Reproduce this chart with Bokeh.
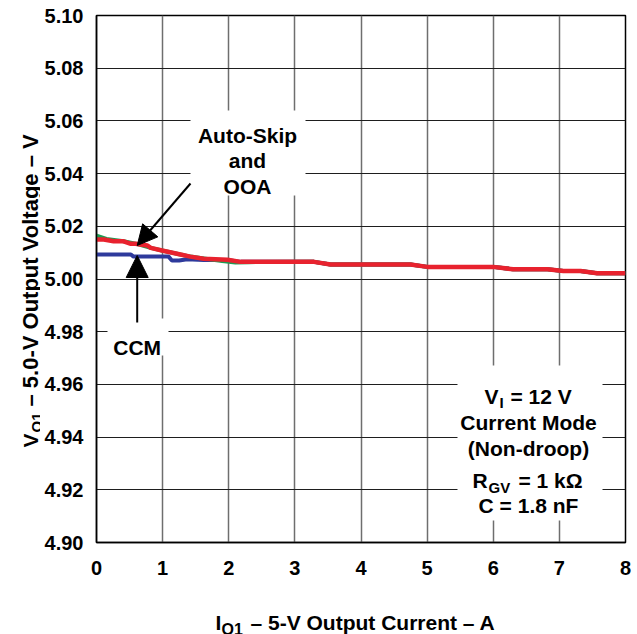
import math
from bokeh.plotting import figure
from bokeh.layouts import row, column
from bokeh.models import (Label, BoxAnnotation, Arrow, NormalHead, FixedTicker,
                          PrintfTickFormatter, Range1d)
from bokeh.embed import file_html
from bokeh.resources import INLINE

# ---------------- data ----------------
red_x = [0.0, 0.11, 0.26, 0.41, 0.51, 0.59, 0.77, 0.82, 0.99, 1.27, 1.42, 1.62, 1.98,
         2.18, 3.29, 3.54, 4.75, 5.0, 6.0, 6.3, 6.82, 7.06, 7.32, 7.57, 8.0]
red_v = [5.0150, 5.0150, 5.0143, 5.0143, 5.0134, 5.0134, 5.0127, 5.0118, 5.0108, 5.0093,
         5.0085, 5.0077, 5.0073, 5.0065, 5.0065, 5.0055, 5.0055, 5.0046, 5.0046, 5.0037,
         5.0037, 5.0030, 5.0030, 5.0022, 5.0022]

green_x = [0.0, 0.15, 0.41, 0.59, 0.82, 0.99, 1.27, 1.42, 1.6, 1.9, 2.1, 2.3, 3.29, 3.54,
           4.75, 5.0, 6.0, 6.3, 6.82, 7.06, 7.32, 7.57, 8.0]
green_v = [5.0165, 5.0152, 5.0143, 5.0134, 5.0118, 5.0108, 5.0093, 5.0085, 5.0079, 5.0068,
           5.0063, 5.0064, 5.0065, 5.0055, 5.0055, 5.0046, 5.0046, 5.0037, 5.0037, 5.0030,
           5.0030, 5.0022, 5.0022]

blue_x = [0.0, 0.52, 0.56, 1.09, 1.14, 1.25, 1.37, 1.62, 1.98, 2.18, 3.29, 3.54, 4.75, 5.0,
          6.0, 6.3, 6.82, 7.06, 7.32, 7.57, 8.0]
blue_v = [5.0093, 5.0093, 5.0085, 5.0085, 5.0070, 5.0070, 5.0075, 5.0072, 5.0072, 5.0065,
          5.0065, 5.0055, 5.0055, 5.0046, 5.0046, 5.0037, 5.0037, 5.0030, 5.0030, 5.0022,
          5.0022]

x_ticks = [0, 1, 2, 3, 4, 5, 6, 7, 8]
y_ticks = [4.90, 4.92, 4.94, 4.96, 4.98, 5.00, 5.02, 5.04, 5.06, 5.08, 5.10]

x_title = ["I", "O1", "\u2013 5-V Output Current \u2013  A"]
y_title = ["V", "O1", "\u2013 5.0-V Output Voltage \u2013 V"]

# ---------------- layout geometry (page px) ----------------
X0, X1, V0, V1 = 0.0, 8.0, 4.90, 5.10
FL, FT, FW, FH = 96, 15, 529, 527   # plot frame on the page
PAGE_W, PAGE_H = 637, 634
YW = 40                              # width of the y-title strip
MAIN_H = 594
XT_H = PAGE_H - MAIN_H
MAIN_W = PAGE_W - YW

FONT = "Liberation Sans"

p = figure(output_backend="svg", toolbar_location=None,
           frame_width=FW, frame_height=FH,
           min_border_left=FL - YW, min_border_right=MAIN_W - (FL - YW) - FW,
           min_border_top=FT, min_border_bottom=MAIN_H - FT - FH,
           x_range=Range1d(X0, X1), y_range=Range1d(V0, V1))
p.background_fill_color = "white"
p.border_fill_color = "white"
p.outline_line_color = "black"
p.outline_line_width = 1.5


def X(px):
    return X0 + (px - FL) / FW * (X1 - X0)


def Y(py):
    return V1 - (py - FT) / FH * (V1 - V0)


for ax in (p.xaxis[0], p.yaxis[0]):
    ax.axis_line_color = "black"
    ax.axis_line_width = 1.5
    ax.major_tick_in = 0
    ax.major_tick_out = 0
    ax.minor_tick_in = 0
    ax.minor_tick_out = 0
    ax.major_label_text_font = FONT
    ax.major_label_text_font_style = "bold"
    ax.major_label_text_font_size = "20px"
    ax.major_label_text_color = "black"

p.xaxis.ticker = FixedTicker(ticks=x_ticks)
p.yaxis.ticker = FixedTicker(ticks=y_ticks)
p.yaxis.formatter = PrintfTickFormatter(format="%.2f")
p.xaxis.major_label_standoff = 18
p.yaxis.major_label_standoff = 13

p.xgrid.ticker = FixedTicker(ticks=x_ticks)
p.ygrid.ticker = FixedTicker(ticks=y_ticks)
p.xgrid.grid_line_color = "#6e6e6e"
p.xgrid.grid_line_width = 1.5
p.ygrid.grid_line_color = "#1e1e1e"
p.ygrid.grid_line_width = 1.2

# ---------------- curves ----------------
p.line(blue_x, blue_v, line_color="#2e3a9c", line_width=4)
p.line(green_x, green_v, line_color="#1f9a52", line_width=4)
p.line(red_x, red_v, line_color="#e8222e", line_width=4.5)

# ---------------- white boxes behind annotations ----------------
for l, r, t, b in [(190, 305, 110, 195), (107, 168, 318, 355), (457, 602, 365, 520)]:
    p.add_layout(BoxAnnotation(left=X(l), right=X(r), top=Y(t), bottom=Y(b),
                               fill_color="white", fill_alpha=1.0, line_alpha=0))


def lab(fig, fx, fy, text, px, py, size=21, align="left", angle=0.0):
    fig.add_layout(Label(x=fx(px), y=fy(py), text=text, text_font=FONT,
                         text_font_size=f"{size}px", text_font_style="bold",
                         text_color="black", text_align=align,
                         text_baseline="alphabetic", angle=angle))


def m(text, px, py, size=21, align="left"):
    lab(p, X, Y, text, px, py, size, align)


# Auto-Skip and OOA
m("Auto-Skip", 247, 135, align="center")
m("and", 247, 160, align="center")
m("OOA", 247, 186, align="center")
p.add_layout(Arrow(x_start=X(190), y_start=Y(183), x_end=X(136.7), y_end=Y(245),
                   line_width=2, line_color="black",
                   end=NormalHead(size=20, fill_color="black", line_color="black")))

# CCM
m("CCM", 136.7, 347, align="center")
p.add_layout(Arrow(x_start=X(136.7), y_start=Y(322), x_end=X(136.7), y_end=Y(255),
                   line_width=2, line_color="black",
                   end=NormalHead(size=22, fill_color="black", line_color="black")))

# Conditions box
m("V", 484, 395.5)
m("I", 499, 402, size=15)
m("= 12 V", 510, 395.5)
m("Current Mode", 528, 422, align="center")
m("(Non-droop)", 528, 447.5, align="center")
m("R", 472, 480)
m("GV", 488, 487, size=15)
m("= 1 k\u03a9", 518, 480)
m("C = 1.8 nF", 528, 505, align="center")


def strip(w, h, xr, yr, left=0):
    f = figure(output_backend="svg", toolbar_location=None,
               frame_width=w, frame_height=h, min_border=0,
               min_border_left=left,
               x_range=Range1d(*xr), y_range=Range1d(*yr),
               x_axis_type=None, y_axis_type=None)
    f.outline_line_color = None
    f.grid.visible = False
    f.background_fill_color = "white"
    f.border_fill_color = "white"
    return f


ident = lambda v: v

# x-axis title strip: its frame spans page x FL..PAGE_W, y MAIN_H..PAGE_H
xt = strip(PAGE_W - FL, XT_H, (FL, PAGE_W), (PAGE_H, MAIN_H), left=FL - YW)
lab(xt, ident, ident, x_title[0], 215, 622)
lab(xt, ident, ident, x_title[1], 221, 628.5, size=16)
lab(xt, ident, ident, x_title[2], 250, 622)

# y-axis title strip: page x 0..YW, y 0..PAGE_H
yt = strip(YW, PAGE_H, (0, YW), (PAGE_H, 0))
ang = math.pi / 2
lab(yt, ident, ident, y_title[0], 29.5, 447, angle=ang)
lab(yt, ident, ident, y_title[1], 35.5, 432, size=15, angle=ang)
lab(yt, ident, ident, y_title[2], 29.5, 406, size=22, angle=ang)

layout = row(yt, column(p, xt))
open("out.html", "w").write(file_html(layout, INLINE))
